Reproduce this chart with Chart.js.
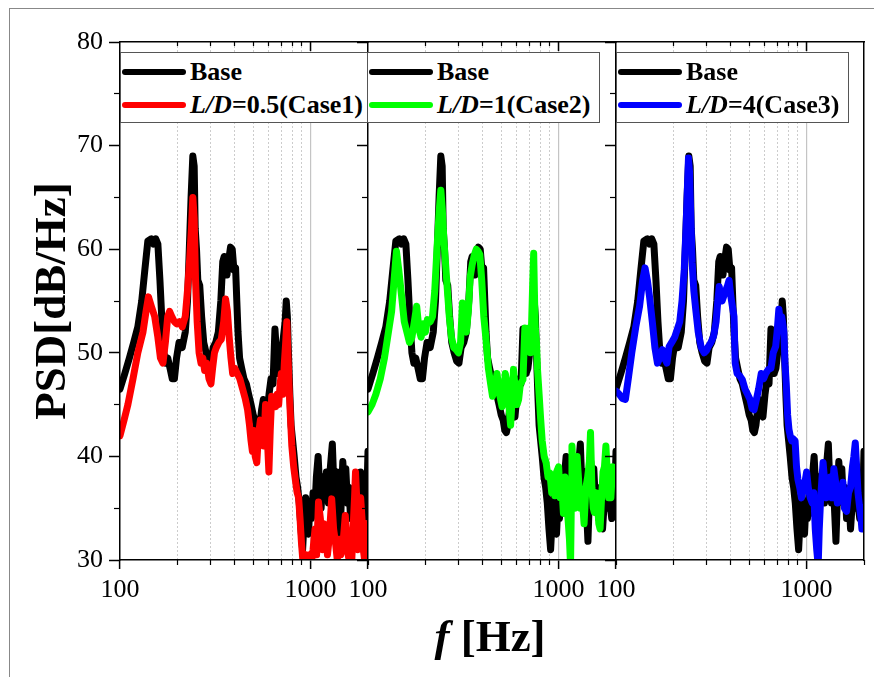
<!DOCTYPE html>
<html><head><meta charset="utf-8">
<script src="https://cdn.jsdelivr.net/npm/chart.js@4.4.1/dist/chart.umd.min.js"></script>
<style>
html,body{margin:0;padding:0;background:#fff;}
#wrap{position:relative;width:874px;height:677px;overflow:hidden;font-family:"Liberation Serif","Times New Roman",serif;}
canvas{position:absolute;left:0;top:0;}
.frame{position:absolute;left:9px;top:8px;width:900px;height:720px;border:1px solid #888;}
.legend{position:absolute;top:52px;height:71px;background:#fff;border:1px solid #555;box-sizing:border-box;}
.row{position:absolute;left:1px;height:30px;display:flex;align-items:center;white-space:nowrap;font-weight:bold;font-size:26px;color:#000;}
.sw{display:inline-block;width:64px;height:6px;border-radius:3px;margin-right:4px;}
.xt{position:absolute;left:340px;width:300px;top:610px;text-align:center;font-weight:bold;font-size:45px;line-height:52px;color:#000;}
</style></head>
<body><div id="wrap">
<div class="frame"></div>
<canvas id="c1" width="874" height="677"></canvas>
<canvas id="c2" width="874" height="677"></canvas>
<canvas id="c3" width="874" height="677"></canvas>
<div class="legend" style="left:120px;width:249px;">
  <div class="row" style="top:4px;"><span class="sw" style="background:#000"></span>Base</div>
  <div class="row" style="top:37px;"><span class="sw" style="background:#ff0000"></span><i>L/D</i>=0.5(Case1)</div>
</div>
<div class="legend" style="left:367px;width:233px;">
  <div class="row" style="top:4px;"><span class="sw" style="background:#000"></span>Base</div>
  <div class="row" style="top:37px;"><span class="sw" style="background:#00ff00"></span><i>L/D</i>=1(Case2)</div>
</div>
<div class="legend" style="left:616px;width:233px;">
  <div class="row" style="top:4px;"><span class="sw" style="background:#000"></span>Base</div>
  <div class="row" style="top:37px;"><span class="sw" style="background:#0000ff"></span><i>L/D</i>=4(Case3)</div>
</div>
<div class="xt"><i>f</i> [Hz]</div>
</div>
<script>
// ---- data (frequency in Hz, PSD in dB/Hz) ----
const xMajorTicks = [100, 1000];
const xMinorTicks = [200, 300, 400, 500, 600, 700, 800, 900, 2000];
const yMajorTicks = [30, 40, 50, 60, 70, 80];
const yMinorTicks = [35, 45, 55, 65, 75];

const baseFreq = [100,106,112,118,124,130,135,140,146,150,154,158,162,166,170,174,178,183,188,193,198,204,212,220,226,231,236,241,245,248,252,256,262,268,275,283,292,300,308,318,328,338,346,352,358,364,372,380,388,396,404,410,416,424,435,447,460,473,487,500,512,522,532,542,553,565,578,590,605,620,635,650,662,675,690,705,720,735,745,755,765,778,790,805,820,838,855,872,890,908,925,942,958,975,992,1010,1030,1050,1072,1095,1115,1135,1160,1185,1210,1240,1270,1300,1325,1350,1375,1400,1425,1450,1475,1500,1530,1560,1590,1620,1660,1700,1735,1770,1800,1830,1860,1900,1940,1970,2000];
const baseDb = [46.5,48,49.5,51,52.5,55,58,60.8,61,60.5,61,60.5,57,53,50,49,49.5,48.5,47.5,47.5,49.5,51,50.5,52,55,60,65,69,68,62,60,57,56.5,53.5,51,50,49.2,49,50.5,51,52,55,58.8,59.3,58.5,57.5,59,60.2,60,58,58.2,55,52,49.5,48.5,47.5,47,46,45,44,43.5,42.5,42.3,43,44.5,45.5,44.3,43.8,46,47.5,47,52.3,50,48,48.5,50,51.5,53,55,53.5,50,46,43,41.5,40,38,37,35.5,33,31,34,36,33,32.5,35.5,34,36.5,34.5,38,40,37,35,38,36,38.5,35.5,39,41.2,37,35.5,38.5,35,31.8,36,39.5,37.5,38.8,35.5,37,34,36.5,33,35.5,37.5,35,38.5,35.5,34,38,36,40.5];

const case1Freq = [100,105,110,117,124,132,137,141,146,152,158,163,168,173,178,182,187,193,198,205,212,220,226,232,237,241,245,249,254,260,266,272,278,285,293,300,306,313,320,330,340,350,358,366,374,382,390,400,412,425,440,455,467,478,487,495,503,512,522,532,545,556,568,580,592,604,614,625,640,655,668,680,692,702,715,728,740,750,760,772,785,797,815,835,850,865,880,895,910,925,945,965,985,1005,1030,1055,1075,1100,1125,1150,1175,1200,1225,1250,1290,1320,1350,1380,1410,1440,1470,1500,1520,1550,1580,1610,1640,1670,1700,1720,1745,1770,1800,1830,1860,1890,1920,1950,1980,2000];
const case1Db = [42,43.5,45,47.5,50,52,54,55.4,54.5,53.5,51.5,49.5,49,51,53.5,54,53.5,53,52.8,53,52.5,53.5,56,59,62,65,63,57,53,50,49,49.5,48.3,49,47.5,47,48.5,50,50.5,51,51.3,53,55.2,54,51.5,49.5,48,48.5,48,47.5,46.5,45.5,44.5,43,41.5,40.5,42.5,40,39.4,42,43.5,43,41,45,42,38.5,42.5,45.8,45.5,44.8,46,45,47,48,46,49,51,53,50,46.5,43.5,41,39,37.5,36.5,36,34,31.7,30,29,30.5,30,30.5,29.5,31,33,30.5,35.6,34,31,33.5,32.8,30.5,32,35.9,33,31.7,30,32,30.5,31,33,34.3,32,30.3,31.5,29.5,33,36,38.5,36,31,33,36,34,31,30,33.5,32,29.5];

const case2Freq = [100,105,110,116,122,128,133,137,141,145,150,155,160,165,170,175,180,185,190,195,200,205,212,218,224,230,236,241,245,250,255,261,267,274,282,290,298,306,313,320,328,336,344,352,362,370,378,386,395,405,416,428,440,450,462,475,490,505,515,525,537,548,560,570,580,592,605,617,630,650,665,675,690,700,712,722,732,740,748,755,765,775,790,805,820,840,860,880,900,920,940,955,975,1000,1020,1040,1060,1080,1100,1120,1140,1155,1165,1175,1195,1215,1235,1250,1275,1300,1330,1360,1390,1420,1450,1470,1495,1520,1540,1570,1600,1625,1650,1680,1710,1740,1770,1800,1830,1860,1880,1920,1960,2000];
const case2Db = [44.3,45,46,47.5,49.5,52,54,57,59.8,58,55.5,53,52,51,51.5,53,54.5,52.3,51.5,52.8,52,53.2,53,53.5,56,60,63.5,65.7,64,61,58.7,56,53.5,51.5,50.5,50.3,50,51,54.8,52.5,52,54,57.4,58.5,59.5,60,59.8,59.5,57,53.5,51.3,48.5,47,45.8,46.5,48,46,44.8,46,48,47,45,43,45.5,48.4,46.5,45,45.5,47,47.4,52.4,50.6,51.5,52.4,50,53,57,59.6,55,52.3,51,48.4,46,43.6,41.5,40,39.4,38,38.4,36.5,37.5,36.2,38.5,39,36,37,34.5,38,36,34,32,29.5,35,41,38,35,36,40,37.5,35,36,33.5,37,38,39.5,42.3,37,35,34.6,36.5,35.5,33.5,33,36,38.5,39,41,38.5,36,37,36,39,37.5,38];

const case3Freq = [100,104,108,112,116,121,127,133,138,142,146,150,155,160,165,170,175,180,185,190,196,203,210,216,222,228,233,237,240,243,247,251,256,262,270,280,290,298,305,315,325,335,342,348,354,360,368,376,385,392,400,407,416,422,432,445,460,475,490,505,518,530,545,560,578,595,610,630,650,668,688,700,715,728,740,750,760,770,782,795,808,820,835,850,870,885,900,920,940,960,980,1000,1020,1045,1070,1090,1110,1130,1150,1165,1185,1205,1220,1245,1270,1300,1330,1360,1390,1420,1450,1480,1520,1550,1580,1620,1660,1700,1740,1770,1800,1830,1860,1900,1930,1950,1980,2000];
const case3Db = [46.3,46,45.6,45.5,47.5,50,52.5,54.5,57,58.2,57,55.4,53,50.5,49,49.5,50.3,49.5,49,50.6,51,51.5,52.3,53,55,58,62,66,68.8,67.5,63,58.7,56,54.2,52,50.5,50,50.2,50.6,51,51.6,53,55,56.4,55.4,55,55.5,56,56.5,57,55.5,54.6,53.5,49,48,47.8,47.4,46.5,46,45.5,44.6,44.5,45.5,46.5,48,47.5,48,48.4,48.5,50,50.6,52,54.2,53,53.5,52.8,52,49,47,44,42.6,42,41.5,41.7,41.5,39,37.8,37,36,36.8,37.5,38.5,37,36,35.5,36.5,33,31,29.5,33,36,38,39.4,37.5,36,37,38,36,38.8,37.5,35.5,37,36,37.5,35,34.7,36.5,37,39,40,41.3,39,36.5,35,34,33,35,34];

const seriesLabels = ['L/D=0.5(Case1)', 'L/D=1(Case2)', 'L/D=4(Case3)'];
const seriesColors = ['#ff0000', '#00ff00', '#0000ff'];

// ---- layout ----
const FONT = "'Liberation Serif','Times New Roman',serif";
const W = 874, H = 677, TOP = 42, BOTTOM = 560;
const PL = [120, 368, 616], PR = [368, 616, 864];
const XAXIS_H = 60;

function pts(f, v) { return f.map((x, i) => ({x: x, y: v[i]})); }
function setTicks(list) { return s => { s.ticks = list.map(v => ({value: v})); }; }
function fixW(w) { return s => { s.width = w; }; }
function fixH(h) { return s => { s.height = h; }; }

const caseData = [[case1Freq, case1Db], [case2Freq, case2Db], [case3Freq, case3Db]];

function makeChart(i) {
  const first = i === 0;
  const yW = first ? 96 : 0;
  const scales = {
    x: {
      type: 'logarithmic', position: 'bottom', min: 100, max: 2000, weight: 1,
      afterBuildTicks: setTicks(xMajorTicks), afterFit: fixH(XAXIS_H),
      ticks: {autoSkip: false, maxRotation: 0, padding: 6, color: '#000',
              font: {family: FONT, size: 26}, callback: v => String(v)},
      grid: {drawOnChartArea: true, tickLength: 9, tickWidth: 1.5, tickColor: '#000', lineWidth: 1.2,
             color: c => (c.tick && c.tick.value === 1000) ? '#c4c4c4' : 'rgba(0,0,0,0)'},
      border: {display: true, color: '#000', width: 1.5, z: 1}
    },
    x2: {
      type: 'logarithmic', position: 'bottom', min: 100, max: 2000, weight: 0,
      afterBuildTicks: setTicks(xMinorTicks), afterFit: fixH(0),
      ticks: {display: false},
      grid: {drawOnChartArea: true, tickLength: 5, tickWidth: 1.2, tickColor: '#000', lineWidth: 1,
             color: c => (c.tick && c.tick.value < 1000) ? '#cccccc' : 'rgba(0,0,0,0)'},
      border: {display: false, dash: [2, 2]}
    },
    xt: {
      type: 'logarithmic', position: 'top', min: 100, max: 2000, weight: 0,
      afterBuildTicks: setTicks([1000]), afterFit: fixH(0),
      ticks: {display: false},
      grid: {drawOnChartArea: false, tickLength: -9, tickWidth: 1.5, tickColor: '#000'},
      border: {display: true, color: '#000', width: 1.5, z: 1}
    },
    xt2: {
      type: 'logarithmic', position: 'top', min: 100, max: 2000, weight: 1,
      afterBuildTicks: setTicks([200, 300, 400, 500, 600, 700, 800, 900]), afterFit: fixH(0),
      ticks: {display: false},
      grid: {drawOnChartArea: false, tickLength: -4, tickWidth: 1.2, tickColor: '#000'},
      border: {display: false}
    },
    y: {
      type: 'linear', position: 'left', min: 30, max: 80, weight: 1,
      afterBuildTicks: setTicks(yMajorTicks), afterFit: fixW(yW),
      ticks: {display: first, padding: 6, color: '#000', font: {family: FONT, size: 26}},
      grid: {drawOnChartArea: false, tickLength: 11, tickWidth: 1.5, tickColor: '#000'},
      border: {display: true, color: '#000', width: 1.5, z: 1},
      title: {display: first, text: 'PSD[dB/Hz]', color: '#000', padding: {top: 2, bottom: 0},
              font: {family: FONT, size: 45, weight: 'bold'}}
    },
    y2: {
      type: 'linear', position: 'left', min: 30, max: 80, weight: 0,
      afterBuildTicks: setTicks(yMinorTicks), afterFit: fixW(0),
      ticks: {display: false},
      grid: {drawOnChartArea: false, tickLength: 6, tickWidth: 1.2, tickColor: '#000'},
      border: {display: false}
    }
  };
  if (i === 2) {
    scales.yr = {
      type: 'linear', position: 'right', min: 30, max: 80,
      afterFit: fixW(0), ticks: {display: false},
      grid: {display: true, drawOnChartArea: false, drawTicks: false},
      border: {display: true, color: '#000', width: 1.5, z: 1}
    };
  }
  return new Chart(document.getElementById('c' + (i + 1)), {
    type: 'line',
    data: {
      datasets: [
        {label: 'Base', data: pts(baseFreq, baseDb), borderColor: '#000000', order: 2,
         xAxisID: 'x', yAxisID: 'y'},
        {label: seriesLabels[i], data: pts(caseData[i][0], caseData[i][1]), borderColor: seriesColors[i],
         order: 1, xAxisID: 'x', yAxisID: 'y'}
      ]
    },
    options: {
      responsive: false, animation: false, devicePixelRatio: 1,
      layout: {padding: {left: PL[i] - yW, right: W - PR[i], top: TOP, bottom: H - BOTTOM - XAXIS_H}},
      elements: {
        line: {borderWidth: 7, tension: 0, borderJoinStyle: 'round', borderCapStyle: 'round', fill: false},
        point: {radius: 0, hoverRadius: 0}
      },
      datasets: {line: {clip: 0}},
      plugins: {legend: {display: false}, tooltip: {enabled: false}, title: {display: false}},
      scales: scales
    }
  });
}
[0, 1, 2].forEach(makeChart);
</script>
</body></html>
